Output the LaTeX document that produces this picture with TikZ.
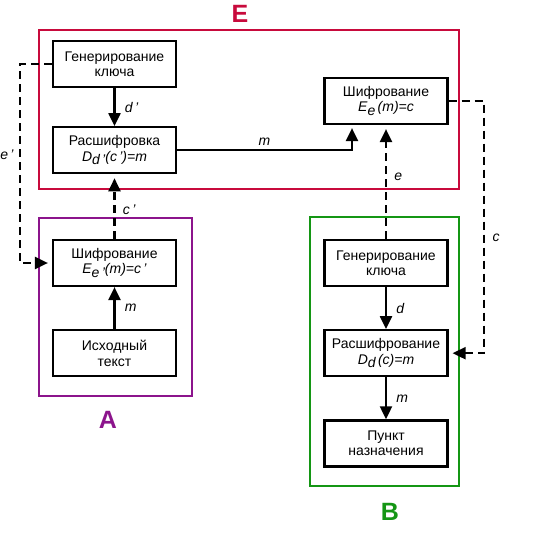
\documentclass[tikz,border=0pt]{standalone}
\usepackage{fontspec}
\setmainfont{Liberation Sans}
\usepackage{xcolor}
\usetikzlibrary{arrows.meta, positioning}

\definecolor{sideE}{RGB}{200,10,60}
\definecolor{sideA}{RGB}{140,20,140}
\definecolor{sideB}{RGB}{20,150,20}

% subscript set in italic text
\newcommand{\idx}[1]{\raisebox{-0.5ex}{\itshape #1}}

\begin{document}
\begin{tikzpicture}[
        x=1pt, y=-1pt,
        node distance=38pt,
        block/.style={rectangle, draw, line width=2.2pt, minimum width=123pt, minimum height=46pt, align=center, font=\fontsize{14}{15.5}\selectfont},
        flow/.style={-{Triangle[length=13pt,width=12pt]}, line width=2.2pt},
        keyline/.style={flow, dash pattern=on 8pt off 5pt, shorten >=4pt},
        lbl/.style={font=\fontsize{14}{16}\selectfont\itshape},
        party/.style={line width=2pt},
        title/.style={font=\fontsize{25}{25}\selectfont\bfseries}
    ]
    \useasboundingbox (0,0) rectangle (550,541);

    % Parties
    \draw[party, sideE] (39,30) rectangle (459,189);
    \draw[party, sideA] (39,218) rectangle (192,396);
    \draw[party, sideB] (310,217) rectangle (459,486);
    \node[title, sideE] (titleE) at (240,14) {E};
    \node[title, sideA] (titleA) at (108,420) {A};
    \node[title, sideB] (titleB) at (390,512) {B};

    % Blocks of E
    \node[block] (genE) at (114.5,64) {Генерирование\\ключа};
    \node[block, below=of genE] (decE) {Расшифровка\\\textit{D}\idx{d\,'}\textit{(c\,')=m}};
    \node[block] (encE) at (386,101) {Шифрование\\\textit{E}\idx{e}\,\textit{(m)=c}};

    % Blocks of A
    \node[block] (encA) at (114.5,263) {Шифрование\\\textit{E}\idx{e\,'}\textit{(m)=c\,'}};
    \node[block, below=42pt of encA] (srcA) {Исходный\\текст};

    % Blocks of B
    \node[block] (genB) at (386,263) {Генерирование\\ключа};
    \node[block, below=42pt of genB] (decB) {Расшифрование\\\textit{D}\idx{d}\,\textit{(c)=m}};
    \node[block, below=42pt of decB] (dstB) {Пункт\\назначения};

    \coordinate (eTurn) at (20,64);
    \coordinate (cTurn) at (484,101);

    % Solid transitions
    \draw[flow] (genE) -- node[lbl, right=6pt] {d\,'} (decE);
    \draw[flow, shorten >=3pt] (decE.east) -| node[lbl, pos=0.25, above] {m} ([xshift=-34pt]encE.south);
    \draw[flow] (srcA) -- node[lbl, right=6pt] {m} (encA);
    \draw[flow] (genB) -- node[lbl, right=6pt] {d} (decB);
    \draw[flow] (decB) -- node[lbl, right=6pt] {m} (dstB);

    % Dashed transitions
    \draw[keyline] (genE.west) -- (eTurn) |- (encA.west);
    \draw[keyline] (encA) -- node[lbl, right=4pt, pos=0.45] {c\,'} (decE);
    \draw[keyline] (genB.north) -- node[lbl, right=4pt, pos=0.55] {e} (encE.south);
    \draw[keyline] (encE.east) -- (cTurn) |- (decB.east);
    \node[lbl] (eLabel) at (7,155) {e\,'};
    \node[lbl] (cLabel) at (496,238) {c};
\end{tikzpicture}
\end{document}
